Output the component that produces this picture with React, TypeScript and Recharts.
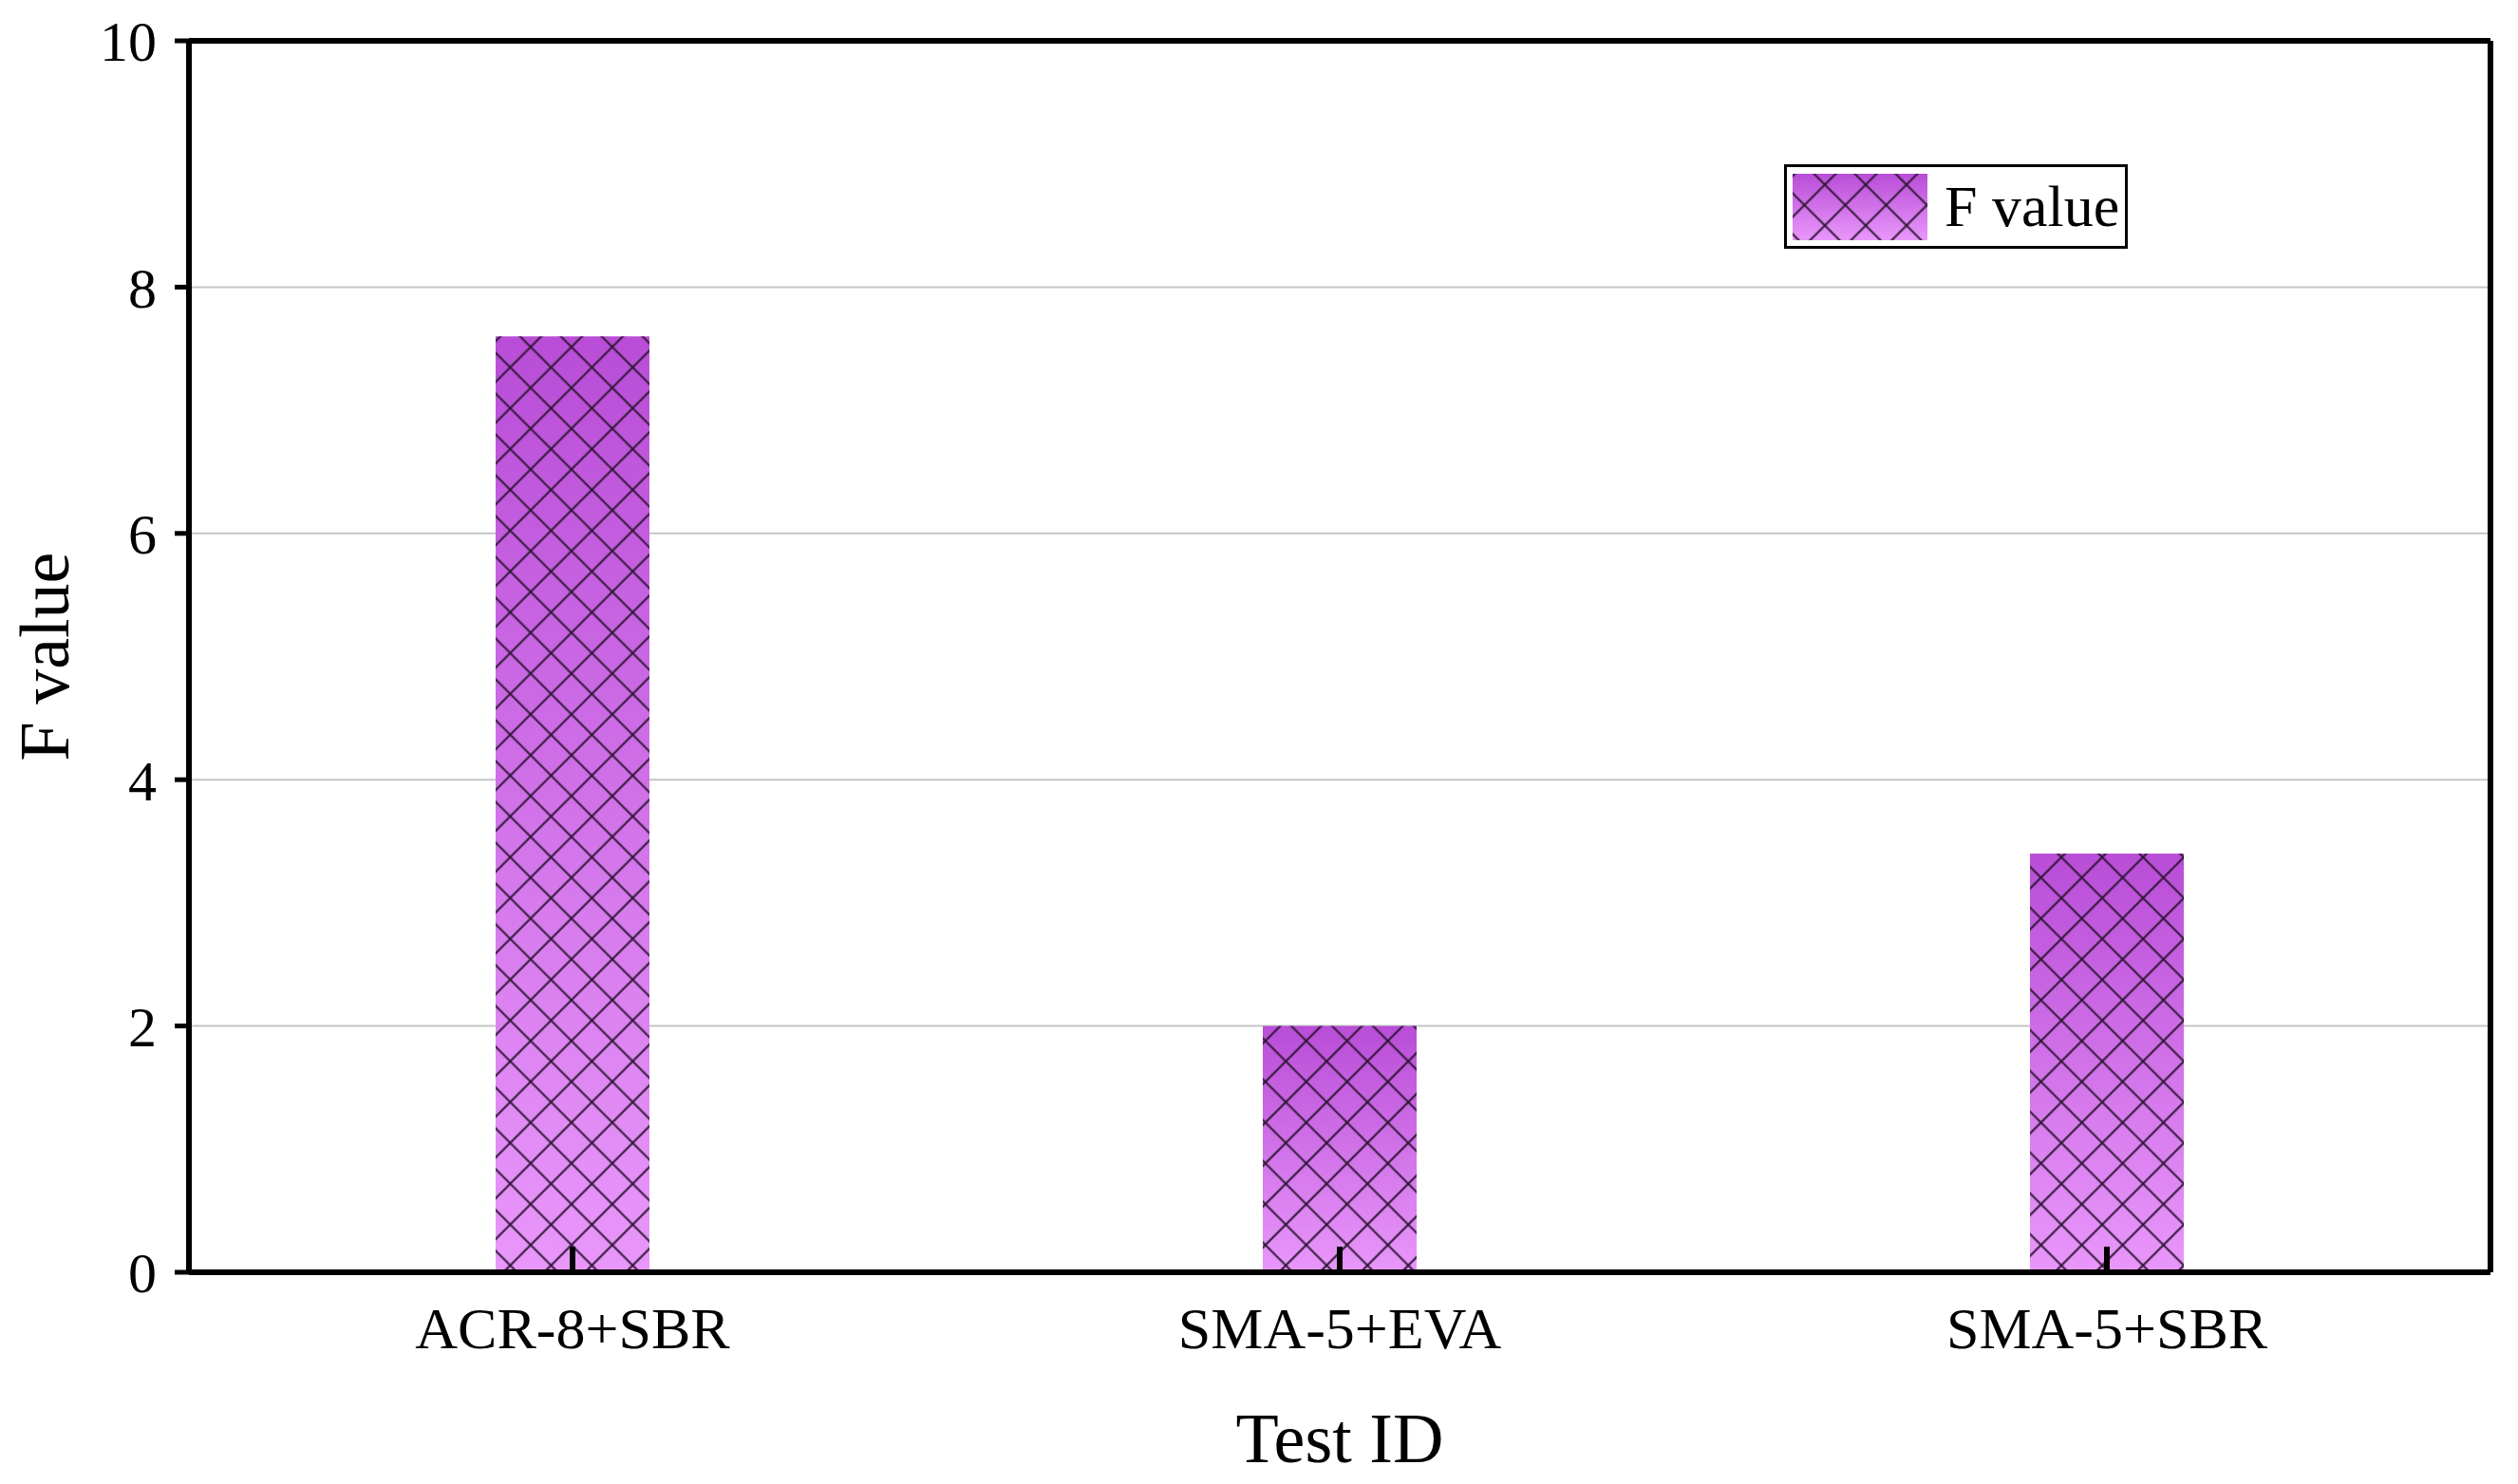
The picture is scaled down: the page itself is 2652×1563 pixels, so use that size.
import React from 'react';
import { BarChart, Bar, XAxis, YAxis, CartesianGrid, Legend, Label } from 'recharts';

const categories = ['ACR-8+SBR', 'SMA-5+EVA', 'SMA-5+SBR'];
const fValues = [7.6, 2.0, 3.4];
const yTicks = [0, 2, 4, 6, 8, 10];

const chartData = categories.map((name, i) => ({ name, f: fValues[i] }));

const FONT = '"Liberation Serif", "Times New Roman", serif';
const TOP_COLOR = '#B94DD7';
const BOTTOM_COLOR = '#E997FB';
const HATCH_COLOR = '#2b1431';

const HatchDefs = ({ prefix }: { prefix: string }) => (
  <defs>
    <linearGradient id={`${prefix}Grad`} x1="0" y1="0" x2="0" y2="1">
      <stop offset="0%" stopColor={TOP_COLOR} />
      <stop offset="100%" stopColor={BOTTOM_COLOR} />
    </linearGradient>
    <pattern
      id={`${prefix}Hatch`}
      patternUnits="userSpaceOnUse"
      width={30.4}
      height={30.4}
      patternTransform="rotate(45)"
    >
      <path d="M0,15.2 H30.4 M15.2,0 V30.4" stroke={HATCH_COLOR} strokeWidth={2} fill="none" />
    </pattern>
  </defs>
);

const HatchBar = (props: any) => {
  const { x, y, width, height } = props;
  if (!height || height <= 0) return null;
  return (
    <g>
      <rect x={x} y={y} width={width} height={height} fill="url(#barGrad)" />
      <rect x={x} y={y} width={width} height={height} fill="url(#barHatch)" />
    </g>
  );
};

const LegendBox = () => (
  <svg width={362} height={89} style={{ display: 'block' }}>
    <HatchDefs prefix="leg" />
    <rect x={1.5} y={1.5} width={359} height={86} fill="#fff" stroke="#000" strokeWidth={3} />
    <rect x={9} y={10} width={142} height={70} fill="url(#legGrad)" />
    <rect x={9} y={10} width={142} height={70} fill="url(#legHatch)" />
    <text x={169} y={65} fontFamily={FONT} fontSize={62} fill="#000">
      F value
    </text>
  </svg>
);

export default function App() {
  return (
    <div style={{ width: 2652, height: 1563, background: '#fff' }}>
      <style>{'body{margin:0}'}</style>
      <BarChart
        width={2652}
        height={1563}
        data={chartData}
        margin={{ top: 42, right: 28, left: 0, bottom: 0 }}
      >
        <HatchDefs prefix="bar" />
        <CartesianGrid vertical={false} stroke="#c4c4c4" strokeWidth={2} />
        <Bar
          dataKey="f"
          name="F value"
          barSize={162}
          shape={(p: any) => <HatchBar {...p} />}
          isAnimationActive={false}
        />
        <XAxis
          dataKey="name"
          height={223}
          tickSize={-27}
          tickMargin={63}
          axisLine={{ stroke: '#000', strokeWidth: 6 }}
          tickLine={{ stroke: '#000', strokeWidth: 6 }}
          tick={{ fontFamily: FONT, fontSize: 62, fill: '#000' }}
        >
          <Label
            content={({ viewBox }: any) => (
              <text
                x={viewBox.x + viewBox.width / 2}
                y={1540}
                textAnchor="middle"
                fontFamily={FONT}
                fontSize={74}
                fill="#000"
              >
                Test ID
              </text>
            )}
          />
        </XAxis>
        <XAxis
          xAxisId="top"
          dataKey="name"
          orientation="top"
          height={1}
          tick={false}
          tickLine={false}
          axisLine={{ stroke: '#000', strokeWidth: 6 }}
        />
        <YAxis
          width={199}
          domain={[0, 10]}
          ticks={yTicks}
          tickSize={15}
          tickMargin={19}
          interval={0}
          axisLine={{ stroke: '#000', strokeWidth: 6 }}
          tickLine={{ stroke: '#000', strokeWidth: 5 }}
          tick={{ fontFamily: FONT, fontSize: 60, fill: '#000' }}
        >
          <Label
            content={({ viewBox }: any) => {
              const cy = viewBox.y + viewBox.height / 2;
              return (
                <text
                  x={72}
                  y={cy}
                  transform={`rotate(-90, 72, ${cy})`}
                  textAnchor="middle"
                  fontFamily={FONT}
                  fontSize={74}
                  fill="#000"
                >
                  F value
                </text>
              );
            }}
          />
        </YAxis>
        <YAxis
          yAxisId="right"
          orientation="right"
          width={1}
          domain={[0, 10]}
          tick={false}
          tickLine={false}
          axisLine={{ stroke: '#000', strokeWidth: 6 }}
        />
        <Legend
          layout="horizontal"
          verticalAlign="middle"
          align="center"
          wrapperStyle={{ position: 'absolute', left: 1879, top: 173, width: 362, height: 89 }}
          content={() => <LegendBox />}
        />
      </BarChart>
    </div>
  );
}
